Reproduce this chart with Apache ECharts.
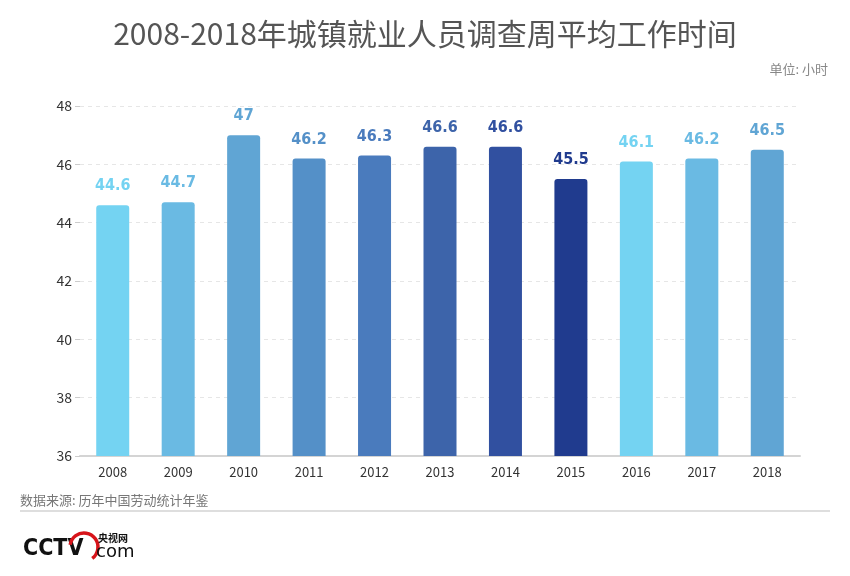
<!DOCTYPE html>
<html>
<head>
<meta charset="utf-8">
<script src="https://cdn.jsdelivr.net/npm/echarts@6/dist/echarts.min.js"></script>
<style>
  html, body { margin: 0; padding: 0; background: #fff; }
  #chart { width: 850px; height: 576px; }
</style>
</head>
<body>
<div id="chart"></div>
<script>
// 年份
var years = ['2008', '2009', '2010', '2011', '2012', '2013', '2014', '2015', '2016', '2017', '2018']
// 周平均工作时间（小时）
var hours = [44.6, 44.7, 47, 46.2, 46.3, 46.6, 46.6, 45.5, 46.1, 46.2, 46.5]
// 每根柱子的颜色
var barColors = ['#74d3f2', '#6abae3', '#60a5d4', '#5490c8', '#4a7bbd', '#3d64aa', '#3150a0', '#203b8e', '#74d3f2', '#6abae3', '#60a5d4']

var font = '"Noto Sans CJK SC", "Noto Sans", sans-serif'
var myChart = echarts.init(document.getElementById('chart'))

var option = {
  backgroundColor: '#fff',
  animation: false,
  title: {
    text: '2008-2018年城镇就业人员调查周平均工作时间',
    left: 'center',
    top: 14,
    textStyle: { fontFamily: font, fontSize: 30, fontWeight: 'normal', color: '#555' }
  },
  grid: { left: 80, right: 50, top: 106, bottom: 120 },
  xAxis: {
    type: 'category',
    data: years,
    axisLine: { lineStyle: { color: '#d4d4d4', width: 2 } },
    axisTick: { alignWithLabel: true, length: 4, lineStyle: { color: '#ccc' } },
    axisLabel: { fontFamily: font, fontSize: 13, color: '#333', margin: 10 }
  },
  yAxis: {
    type: 'value',
    min: 36,
    max: 48,
    interval: 2,
    axisLine: { show: false },
    axisTick: { show: true, inside: false, length: 5, lineStyle: { color: '#ccc' } },
    axisLabel: { fontFamily: font, fontSize: 14, color: '#333', margin: 8 },
    splitLine: { lineStyle: { color: '#e6e6e6', type: [4, 4] } }
  },
  series: [{
    type: 'bar',
    barWidth: 33,
    data: hours.map(function (v, i) {
      return {
        value: v,
        itemStyle: { color: barColors[i], borderRadius: [3, 3, 0, 0] },
        label: { color: barColors[i] }
      }
    }),
    label: {
      show: true,
      position: 'top',
      distance: 11,
      fontFamily: '"DejaVu Sans Condensed", "Noto Sans", sans-serif',
      fontSize: 16,
      fontWeight: 'bold'
    }
  }],
  graphic: [
    {
      type: 'text', right: 22, top: 63,
      style: { text: '单位: 小时', font: '13px ' + font, fill: '#888' }
    },
    {
      type: 'text', left: 20, top: 494,
      style: { text: '数据来源: 历年中国劳动统计年鉴', font: '13px ' + font, fill: '#777' }
    },
    {
      type: 'rect', shape: { x: 20, y: 510, width: 810, height: 2 },
      style: { fill: '#dedede' }
    },
    // 央视网 logo
    {
      type: 'text', left: 23, top: 538,
      style: { text: 'CCTV', font: 'bold 23px "DejaVu Sans Condensed", sans-serif', fill: '#111' }
    },
    {
      type: 'arc', shape: { cx: 84, cy: 547, r: 14, startAngle: Math.PI * 1.05, endAngle: Math.PI * 0.3 },
      style: { stroke: '#d7141a', lineWidth: 3.5, fill: null }
    },
    {
      type: 'text', left: 98, top: 533,
      style: { text: '央视网', font: 'bold 10px ' + font, fill: '#111' }
    },
    {
      type: 'text', left: 96, top: 543,
      style: { text: 'com', font: '18px "DejaVu Sans", sans-serif', fill: '#111' }
    }
  ]
}
myChart.setOption(option, true)
</script>
</body>
</html>
